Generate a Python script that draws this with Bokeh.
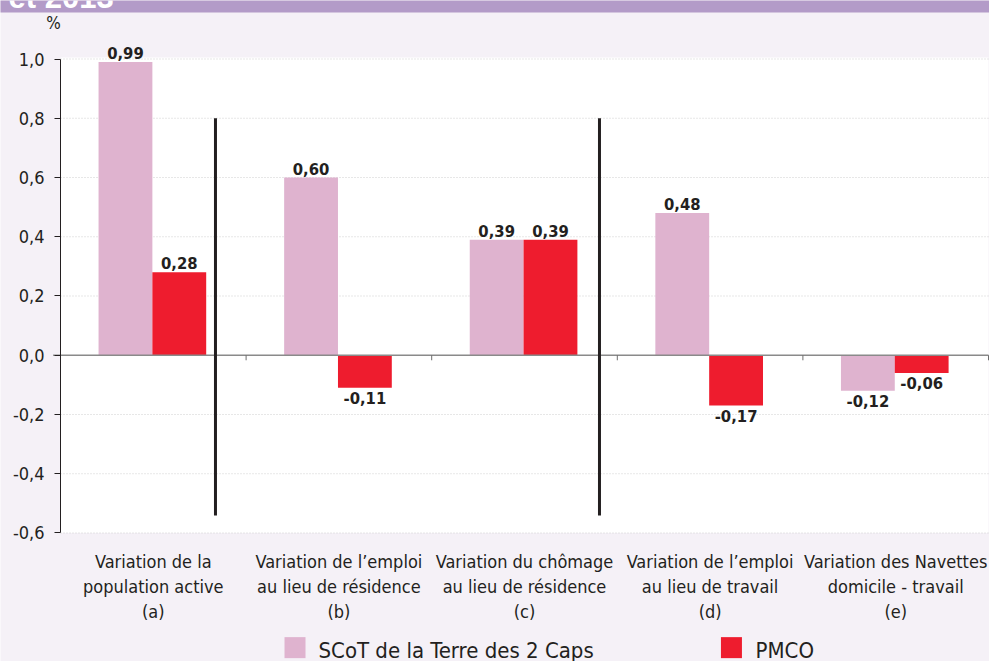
from bokeh.plotting import figure
from bokeh.models import ColumnDataSource, Range1d, FixedTicker, CustomJSTickFormatter
from bokeh.transform import dodge
from bokeh.core.properties import value
from bokeh.embed import file_html
from bokeh.resources import INLINE

# ---------------- data ----------------
categories = [
    "Variation de la\npopulation active\n(a)",
    "Variation de l’emploi\nau lieu de résidence\n(b)",
    "Variation du chômage\nau lieu de résidence\n(c)",
    "Variation de l’emploi\nau lieu de travail\n(d)",
    "Variation des Navettes\ndomicile - travail\n(e)",
]
scot_values = [0.99, 0.60, 0.39, 0.48, -0.12]
pmco_values = [0.28, -0.11, 0.39, -0.17, -0.06]
series_names = ["SCoT de la Terre des 2 Caps", "PMCO"]
y_ticks = [-0.6, -0.4, -0.2, 0.0, 0.2, 0.4, 0.6, 0.8, 1.0]
y_unit = "%"
banner_text = "et 2013"

# ---------------- styles ----------------
FONT = "DejaVu Sans Condensed"
TXT = "#231f20"
BG = "#f5f1f7"
PINK = "#dfb3cf"
RED = "#ee1c2e"
BANNER = "#b39bc8"
YMIN, YMAX = y_ticks[0], y_ticks[-1]
NCAT = len(categories)

def fmt(v):
    return ("%.2f" % v).replace(".", ",")

xc = [i + 0.5 for i in range(NCAT)]
src = ColumnDataSource(dict(x=xc, scot=scot_values, pmco=pmco_values))

# the frame fills the whole canvas; axes are pinned inside it with fixed_location
p = figure(width=989, height=661, output_backend="svg", toolbar_location=None,
           x_range=Range1d(-0.3233, 5.0054), y_range=Range1d(-1.0338, 1.1975),
           min_border=0, background_fill_color=BG, border_fill_color=BG,
           outline_line_color=None)
p.grid.visible = False

# plot area (white) and banner
p.quad(left=[0], right=[NCAT], bottom=[YMIN], top=[YMAX + 0.005], fill_color="white",
       line_color=None)
p.quad(left=[-1], right=[NCAT + 1], bottom=[1.157], top=[1.4], fill_color=BANNER,
       line_color=None)
p.text(x=[-0.28], y=[1.177], text=[banner_text], text_align="left",
       text_baseline="alphabetic", y_offset=-9, text_font=value("Liberation Sans"),
       text_font_style="bold", text_font_size="31px", text_color="white")

# grid lines
grid_ticks = [t for t in y_ticks if t != 0.0]
p.segment(x0=[0] * len(grid_ticks), x1=[NCAT] * len(grid_ticks), y0=grid_ticks,
          y1=grid_ticks, line_color="#cfcfcf", line_dash="1 2", line_width=1)

# y axis
p.yaxis.fixed_location = 0
p.yaxis.bounds = (YMIN, YMAX)
p.yaxis.ticker = FixedTicker(ticks=y_ticks)
p.yaxis.formatter = CustomJSTickFormatter(code="return tick.toFixed(1).replace('.', ',');")
p.yaxis.major_tick_out = 6
p.yaxis.major_tick_in = 0
p.yaxis.minor_tick_line_color = None
p.yaxis.axis_line_color = TXT
p.yaxis.major_tick_line_color = TXT
p.yaxis.major_label_text_font = FONT
p.yaxis.major_label_text_font_size = "18px"
p.yaxis.major_label_text_color = TXT
p.yaxis.major_label_standoff = 10

# x axis (category labels)
p.xaxis.fixed_location = YMIN
p.xaxis.ticker = FixedTicker(ticks=xc)
p.xaxis.formatter = CustomJSTickFormatter(args=dict(labels=categories),
                                          code="return labels[Math.floor(tick)];")
p.xaxis.axis_line_color = None
p.xaxis.major_tick_line_color = None
p.xaxis.minor_tick_line_color = None
p.xaxis.major_label_text_font = FONT
p.xaxis.major_label_text_font_size = "18px"
p.xaxis.major_label_text_color = TXT
p.xaxis.major_label_standoff = 12
p.xaxis.major_label_text_line_height = 1.2

# bars
r1 = p.vbar(x=dodge("x", -0.15, range=p.x_range), top="scot", bottom=0, width=0.29,
            source=src, fill_color=PINK, line_color=None)
r2 = p.vbar(x=dodge("x", 0.14, range=p.x_range), top="pmco", bottom=0, width=0.29,
            source=src, fill_color=RED, line_color=None)

# zero line and category boundary ticks
p.segment(x0=[-0.04], x1=[NCAT], y0=[0], y1=[0], line_color="#8a8a8a", line_width=1.5)
bounds_x = list(range(1, NCAT + 1))
p.segment(x0=bounds_x, y0=[0] * NCAT, x1=bounds_x, y1=[-0.017] * NCAT,
          line_color="#6d6d6d", line_width=1)

# separator lines
p.segment(x0=[0.835, 2.904], y0=[0.8, 0.8], x1=[0.835, 2.904], y1=[-0.541, -0.541],
          line_color=TXT, line_width=3)

# value labels
for vals, off in ((scot_values, -0.15), (pmco_values, 0.14)):
    posx = [c + off for c, v in zip(xc, vals) if v >= 0]
    posy = [v for v in vals if v >= 0]
    negx = [c + off for c, v in zip(xc, vals) if v < 0]
    negy = [v for v in vals if v < 0]
    p.text(x=posx, y=posy, text=[fmt(v) for v in posy], text_align="center",
           text_baseline="alphabetic", y_offset=-9, text_font=value(FONT),
           text_font_style="bold", text_font_size="16.5px", text_color=TXT)
    p.text(x=negx, y=negy, text=[fmt(v) for v in negy], text_align="center",
           text_baseline="top", y_offset=4, text_font=value(FONT),
           text_font_style="bold", text_font_size="16.5px", text_color=TXT)

# unit label
p.text(x=[-0.038], y=[1.1215], text=[y_unit], text_align="center", text_baseline="middle",
       text_font=value(FONT), text_font_size="17px", text_color=TXT)

# legend (manual, below the category labels)
p.scatter(x=[1.2635, 3.615], y=[-0.987, -0.987], marker="square", size=21,
          fill_color=[PINK, RED], line_color=None)
p.text(x=[1.390, 3.745], y=[-0.985, -0.985], text=series_names, text_align="left",
       text_baseline="middle", y_offset=3, text_font=value(FONT), text_font_size="22px",
       text_color=TXT)

open("out.html", "w").write(file_html(p, INLINE))
